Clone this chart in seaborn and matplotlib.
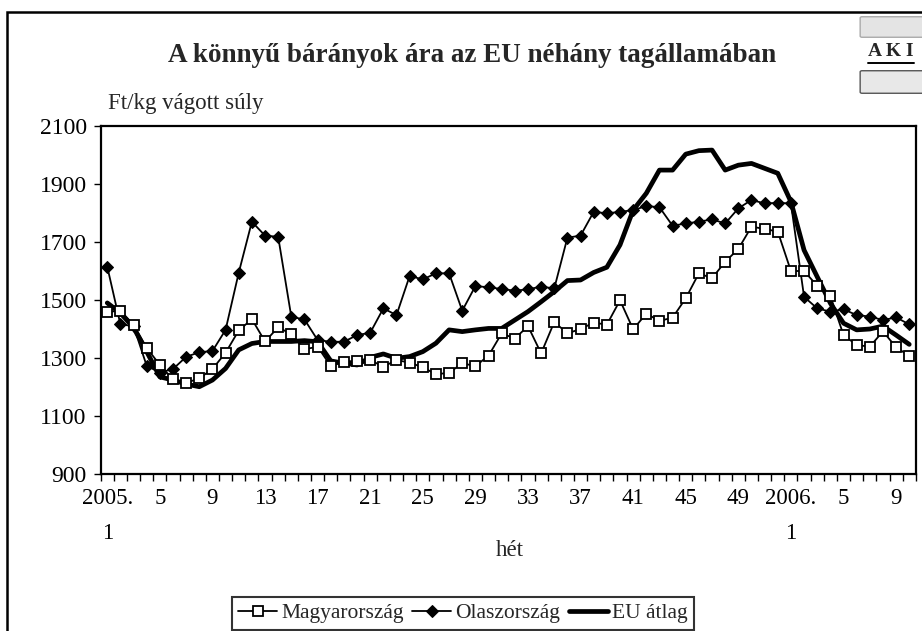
import numpy as np
import matplotlib.pyplot as plt
import seaborn as sns
from matplotlib.patches import Rectangle, FancyBboxPatch

# weeks: 2005/1 .. 2005/52, then 2006/1 .. 2006/10
weeks = list(range(1, 53)) + list(range(1, 11))

hungary = [1459, 1463, 1415, 1335, 1276, 1226, 1214, 1230, 1262, 1318, 1395, 1434, 1357, 1406, 1382, 1330,
           1339, 1272, 1287, 1291, 1293, 1270, 1293, 1284, 1268, 1244, 1249, 1282, 1272, 1308, 1385,
           1367, 1410, 1316, 1424, 1385, 1400, 1422, 1415, 1499, 1399, 1453, 1428, 1439, 1506, 1592,
           1575, 1632, 1676, 1753, 1745, 1736, 1600, 1600, 1549, 1514, 1379, 1345, 1339, 1392, 1337, 1307]

italy = [1615, 1416, 1410, 1273, 1250, 1262, 1304, 1320, 1324, 1397, 1594, 1770, 1722, 1718, 1442, 1433,
         1362, 1356, 1356, 1379, 1387, 1471, 1448, 1583, 1571, 1592, 1592, 1463, 1548, 1544, 1538,
         1532, 1537, 1546, 1540, 1715, 1722, 1804, 1799, 1804, 1810, 1824, 1820, 1756, 1764, 1770,
         1778, 1764, 1816, 1845, 1833, 1835, 1833, 1511, 1471, 1460, 1468, 1448, 1443, 1431, 1440, 1416]

eu_avg = [1490, 1455, 1405, 1322, 1235, 1224, 1210, 1201, 1224, 1264, 1328, 1350, 1357, 1357, 1357, 1360,
          1356, 1290, 1282, 1276, 1302, 1314, 1299, 1305, 1322, 1351, 1397, 1391, 1397, 1402, 1402,
          1431, 1460, 1494, 1529, 1567, 1569, 1595, 1613, 1690, 1810, 1868, 1948, 1948, 2003, 2015,
          2017, 1948, 1965, 1971, 1954, 1937, 1839, 1672, 1580, 1489, 1420, 1397, 1400, 1410, 1379, 1347]

yticks = list(range(900, 2101, 200))

sns.set_theme(style="white")
plt.rcParams['font.family'] = ['Liberation Serif', 'DejaVu Serif']

x = np.arange(len(weeks))
fig = plt.figure(figsize=(9.22, 6.31), dpi=100)
ax = fig.add_axes([0.1092, 0.2488, 0.8841, 0.5515])

sns.lineplot(x=x, y=eu_avg, ax=ax, color='black', lw=3.4, label='EU átlag', zorder=2)
sns.lineplot(x=x, y=italy, ax=ax, color='black', lw=1.3, marker='D', markersize=6,
             markerfacecolor='black', markeredgecolor='black', label='Olaszország', zorder=3)
sns.lineplot(x=x, y=hungary, ax=ax, color='black', lw=1.3, marker='s', markersize=7,
             markerfacecolor='white', markeredgecolor='black', markeredgewidth=1.3,
             label='Magyarország', zorder=4)

ax.set_xlim(-0.5, len(weeks) - 0.5)
ax.set_ylim(900, 2100)
ax.set_yticks(yticks)
ax.set_yticklabels([str(v) for v in yticks], fontsize=17)

labels = []
for i, w in enumerate(weeks):
    if i == 0:
        labels.append("2005.\n1")
    elif i == 52:
        labels.append("2006.\n1")
    else:
        labels.append(str(w))
ax.set_xticks(x[::4])
ax.set_xticklabels(labels[::4], fontsize=16.5, linespacing=1.9)
ax.set_xticks(np.arange(-0.5, len(weeks), 1), minor=True)
ax.tick_params(axis='x', which='major', length=0, pad=10, colors='black')
ax.tick_params(axis='x', which='minor', bottom=True, length=5, width=1, direction='out', color='black')
ax.tick_params(axis='y', left=True, length=5, width=1, direction='out', pad=5, colors='black')
ax.set_xlabel("")
ax.set_ylabel("")
for s in ax.spines.values():
    s.set_color('black')
    s.set_linewidth(1.6)

ax.get_legend().remove()
h, l = ax.get_legend_handles_labels()
order = [l.index('Magyarország'), l.index('Olaszország'), l.index('EU átlag')]
leg = fig.legend([h[i] for i in order], [l[i] for i in order], loc='upper center',
                 bbox_to_anchor=(463 / 922, 1 - 586 / 631), ncol=3, fontsize=15.5,
                 frameon=True, fancybox=False, edgecolor='black', handlelength=1.8,
                 handletextpad=0.2, columnspacing=0.4, borderpad=0.3)
leg.get_frame().set_linewidth(1.5)

fig.text(472 / 922, 1 - 55 / 631, "A könnyű bárányok ára az EU néhány tagállamában",
         ha='center', va='center', fontsize=19.5, fontweight='bold')
fig.text(108 / 922, 1 - 104 / 631, "Ft/kg vágott súly", ha='left', va='center', fontsize=16.5)
fig.text(510 / 922, 1 - 550 / 631, "hét", ha='center', va='center', fontsize=16.5)

# outer frame
fig.patches.append(Rectangle((7 / 922, -0.1), 1.2, 1.1 - 12 / 631, transform=fig.transFigure,
                             fill=False, edgecolor='black', lw=1.8))

# small AKI logo
fig.patches.append(FancyBboxPatch((862 / 922, 1 - 36 / 631), 60 / 922, 18 / 631,
                                  boxstyle='round,pad=0.002', transform=fig.transFigure,
                                  facecolor='#e4e4e4', edgecolor='#aaaaaa', lw=1))
fig.patches.append(FancyBboxPatch((862 / 922, 1 - 92 / 631), 60 / 922, 20 / 631,
                                  boxstyle='round,pad=0.002', transform=fig.transFigure,
                                  facecolor='#e8e8e8', edgecolor='#555555', lw=1))
fig.text(891 / 922, 1 - 52 / 631, "A K I", ha='center', va='center', fontsize=14,
         fontweight='bold')
fig.add_artist(plt.Line2D([868 / 922, 914 / 922], [1 - 63 / 631, 1 - 63 / 631],
                          transform=fig.transFigure, color='black', lw=1.4))

fig.savefig("out.png", dpi=100)
